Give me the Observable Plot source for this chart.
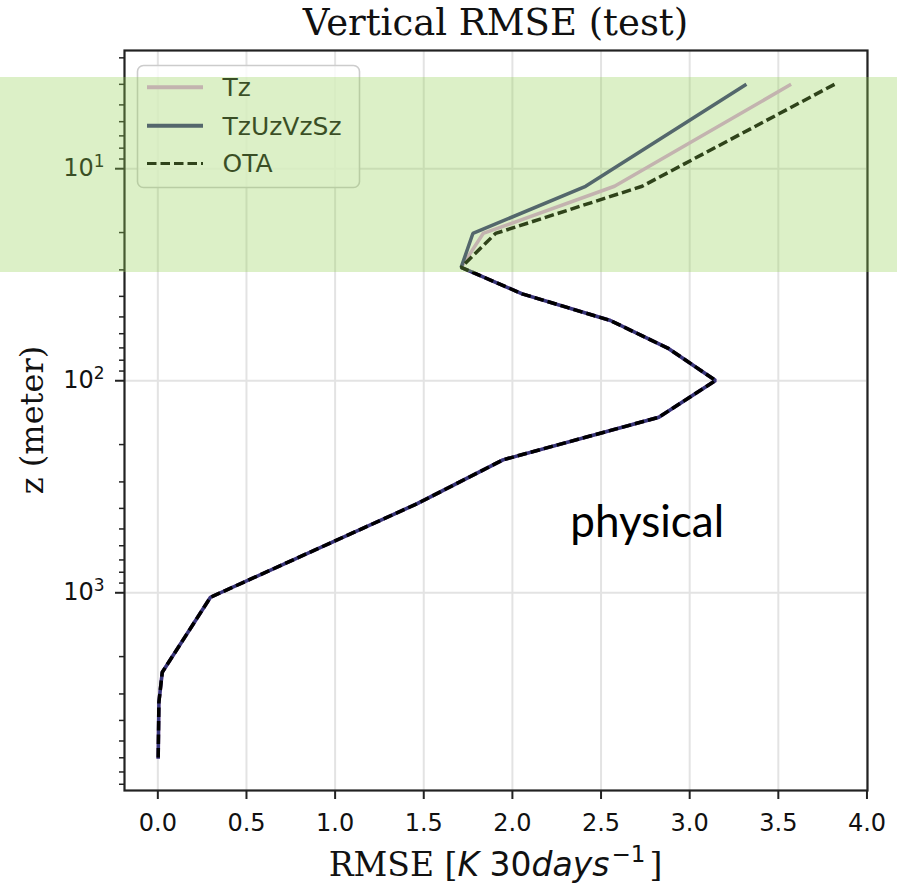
<!DOCTYPE html>
<html>
<head>
<meta charset="utf-8">
<script src="https://cdn.jsdelivr.net/npm/d3@7"></script>
<script src="https://cdn.jsdelivr.net/npm/@observablehq/plot@0.6"></script>
<style>
  html, body { margin: 0; padding: 0; background: #ffffff; }
  #wrap { position: relative; width: 897px; height: 886px; overflow: hidden; background: #ffffff; }
  #wrap > svg { position: absolute; left: 0; top: 0; }
  .overlay { position: absolute; pointer-events: none; }
</style>
</head>
<body>
<div id="wrap"></div>
<script>
// ---- data ----
const depth = [4.0, 12.1, 20.2, 29.2, 38.9, 52, 70.6, 99.7, 148.6, 236, 380, 1050, 2370, 3280, 6070];
const rmseTz        = [3.572, 2.576, 1.835, 1.711, 2.055, 2.553, 2.882, 3.146, 2.826, 1.947, 1.463, 0.297, 0.025, 0.006, 0.002];
const rmseTzUzVzSz  = [3.320, 2.413, 1.777, 1.711, 2.055, 2.553, 2.882, 3.146, 2.826, 1.947, 1.463, 0.297, 0.025, 0.006, 0.002];
const rmseOTA       = [3.817, 2.732, 1.905, 1.711, 2.055, 2.553, 2.882, 3.146, 2.826, 1.947, 1.463, 0.297, 0.025, 0.006, 0.002];

const seriesNames  = ["Tz", "TzUzVzSz", "OTA"];
const seriesValues = [rmseTz, rmseTzUzVzSz, rmseOTA];
const seriesColors = ["#dba6dc", "#37367a", "#000000"];
const seriesDash   = [null, null, "9.5,4"];

const xTicks = [0, 0.5, 1, 1.5, 2, 2.5, 3, 3.5, 4];
const yMajorTicks = [10, 100, 1000];
const yMinorTicks = [3, 4, 5, 6, 7, 8, 9, 20, 30, 40, 50, 60, 70, 80, 90,
                     200, 300, 400, 500, 600, 700, 800, 900, 2000, 3000, 4000, 5000, 6000, 7000, 8000];
const yTickBase = "10";
const yTickExp = {10: "1", 100: "2", 1000: "3"};

const titleText = "Vertical RMSE (test)";
const yLabelText = "z (meter)";
const annotationText = ["physical"];
const annotationX = [2.76];
const annotationDepth = [548];
const bandDepths = [3.72, 30.8];   // highlighted surface layer

// ---- build table ----
const rows = seriesNames.flatMap((name, i) =>
  depth.map((d, j) => ({series: name, depth: d, rmse: seriesValues[i][j]})));

const W = 897, H = 886;
const mL = 124, mR = 30, mT = 50, mB = 96;

const lineMarks = seriesNames.map((name, i) =>
  Plot.line(rows.filter(r => r.series === name), {
    x: "rmse", y: "depth",
    stroke: seriesColors[i], strokeWidth: 3.5,
    strokeDasharray: seriesDash[i] || undefined,
    strokeLinejoin: "miter", strokeLinecap: "butt"
  }));

const plot = Plot.plot({
  width: W, height: H,
  marginLeft: mL, marginRight: mR, marginTop: mT, marginBottom: mB,
  style: {fontFamily: "'DejaVu Sans', sans-serif", fontSize: "24px", color: "#111", background: "transparent"},
  x: {domain: [-0.188, 4.003], label: null},
  y: {type: "log", domain: [2.77, 8560], reverse: true, label: null},
  marks: [
    Plot.gridX(xTicks, {stroke: "#e3e3e3", strokeOpacity: 1, strokeWidth: 2}),
    Plot.gridY(yMajorTicks, {stroke: "#e3e3e3", strokeOpacity: 1, strokeWidth: 2}),
    ...lineMarks,
    Plot.text(annotationText, {
      x: (d, i) => annotationX[i], y: (d, i) => annotationDepth[i], text: d => d,
      fontFamily: "Lato, 'Open Sans', sans-serif", fontSize: 44, fill: "#000",
      textAnchor: "middle", lineAnchor: "bottom"
    }),
    Plot.axisX(xTicks, {
      tickSize: 9, tickPadding: 14, strokeWidth: 2, stroke: "#222",
      tickFormat: d3.format(".1f"), label: null, fontSize: 24, fill: "#111"
    }),
    Plot.axisY(yMajorTicks, {
      tickSize: 9, tickPadding: 11, strokeWidth: 2, stroke: "#222",
      tickFormat: d => yTickBase + "^" + yTickExp[d], label: null, fontSize: 24, fill: "#111"
    }),
    Plot.axisY(yMinorTicks, {
      tickSize: 5, strokeWidth: 1.5, stroke: "#222",
      tickFormat: () => "", label: null
    }),
    Plot.frame({stroke: "#222", strokeWidth: 2.2})
  ]
});

const wrap = document.getElementById("wrap");
wrap.appendChild(plot);

const svg = d3.select(plot);
const ys = plot.scale("y");
const cx = (mL + (W - mR)) / 2;
const cy = (mT + (H - mB)) / 2;

// render "10^n" tick labels with a raised exponent (like mathtext)
svg.selectAll("text").each(function() {
  const t = this.textContent;
  const m = /^10\^(\d)$/.exec(t);
  if (!m) return;
  const sel = d3.select(this);
  sel.text(null);
  sel.append("tspan").text(yTickBase);
  sel.append("tspan").attr("dy", -9).style("font-size", "17px").text(m[1]);
});

// title
svg.append("text")
  .attr("x", cx).attr("y", 35)
  .attr("text-anchor", "middle")
  .style("font-family", "'DejaVu Serif', serif").style("font-size", "37px").attr("fill", "#111")
  .text(titleText);

// y label
svg.append("text")
  .attr("transform", `translate(43,${cy}) rotate(-90)`)
  .attr("text-anchor", "middle")
  .style("font-family", "'DejaVu Serif', serif").style("font-size", "32px").attr("fill", "#111")
  .text(yLabelText);

// x label (with mathtext-like parts)
const xl = svg.append("text")
  .attr("x", cx).attr("y", 876)
  .attr("text-anchor", "middle")
  .attr("fill", "#111")
  .style("font-size", "33px");
xl.append("tspan").style("font-family", "'DejaVu Serif', serif").text("RMSE [");
xl.append("tspan").style("font-family", "'DejaVu Sans', sans-serif").style("font-style", "italic").text("K");
xl.append("tspan").style("font-family", "'DejaVu Sans', sans-serif").text("\u00A030");
xl.append("tspan").style("font-family", "'DejaVu Sans', sans-serif").style("font-style", "italic").text("days");
xl.append("tspan").style("font-family", "'DejaVu Sans', sans-serif").style("font-size", "23px").attr("dx", 2).attr("dy", -14).text("\u22121");
xl.append("tspan").style("font-family", "'DejaVu Serif', serif").attr("dx", 4).attr("dy", 14).text("]");

// legend (drawn under the band)
const legend = d3.select(wrap).append("svg")
  .attr("class", "overlay")
  .attr("width", W).attr("height", H)
  .style("left", "0px").style("top", "0px");
legend.append("rect")
  .attr("x", 137.5).attr("y", 65.5).attr("width", 222).attr("height", 122)
  .attr("rx", 6).attr("ry", 6)
  .attr("fill", "#ffffff").attr("fill-opacity", 0.8)
  .attr("stroke", "#cccccc").attr("stroke-width", 1.6);
const rowY = [87.3, 125.7, 163.6];
seriesNames.forEach((name, i) => {
  legend.append("line")
    .attr("x1", 147).attr("x2", 203).attr("y1", rowY[i]).attr("y2", rowY[i])
    .attr("stroke", seriesColors[i]).attr("stroke-width", i === 2 ? 3 : 4)
    .attr("stroke-dasharray", seriesDash[i] || null);
  legend.append("text")
    .attr("x", 222.5).attr("y", rowY[i] + 8.8)
    .style("font-family", "'DejaVu Sans', sans-serif").style("font-size", "25px")
    .attr("fill", "#111")
    .text(name);
});

// translucent green band across the whole picture (on top)
const bTop = ys.apply(bandDepths[0]);
const bBot = ys.apply(bandDepths[1]);
d3.select(wrap).append("div")
  .attr("class", "overlay")
  .style("left", "0px").style("width", W + "px")
  .style("top", bTop + "px").style("height", (bBot - bTop) + "px")
  .style("background", "rgba(146, 208, 80, 0.32)");
</script>
</body>
</html>
